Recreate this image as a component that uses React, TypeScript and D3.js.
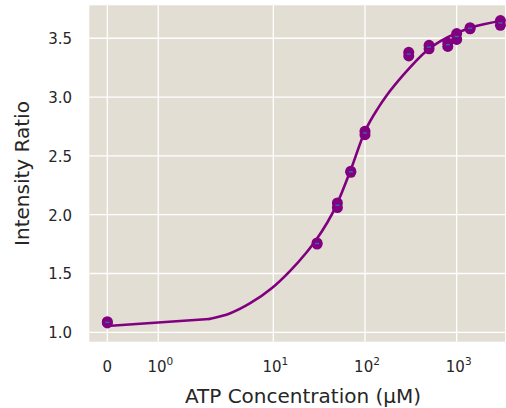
import React from "react";
import * as d3 from "d3";

// Measured ATP titration: concentration (µM) and intensity ratio, duplicates per concentration
const concentrations = [0, 0, 30, 30, 50, 50, 70, 70, 100, 100, 300, 300, 500, 500, 800, 800, 1000, 1000, 1400, 1400, 3000, 3000];
const ratios = [1.09, 1.08, 1.76, 1.75, 2.1, 2.06, 2.37, 2.36, 2.71, 2.68, 3.38, 3.35, 3.44, 3.41, 3.46, 3.43, 3.54, 3.49, 3.59, 3.58, 3.65, 3.61];

// Fitted binding curve, sampled
const fitConc = [0, 2, 3.4, 5.6, 9.6, 15, 23, 29, 49, 69, 100, 140, 173, 262, 471, 1000, 1400, 3200];
const fitRatio = [1.054, 1.113, 1.162, 1.247, 1.374, 1.516, 1.678, 1.78, 2.083, 2.369, 2.709, 2.91, 3.015, 3.188, 3.394, 3.544, 3.587, 3.65];

// Axis ticks
const xTicks = [0, 1, 10, 100, 1000];
const xTickExp = ["", "0", "1", "2", "3"];
const yTicks = [1.0, 1.5, 2.0, 2.5, 3.0, 3.5];

const W = 506;
const H = 408;
const plot = { left: 89.3, right: 505, top: 5.3, bottom: 341.7 };

// Symmetric log transform (linear near zero, log10 beyond the threshold)
const LINTHRESH = 2;
const LINSCALE_ADJ = 1 / (1 - 1 / 10);
function symlog(v: number): number {
  const a = Math.abs(v);
  if (a <= LINTHRESH) return v * LINSCALE_ADJ;
  return Math.sign(v) * LINTHRESH * (LINSCALE_ADJ + Math.log10(a / LINTHRESH));
}

const xLin = d3.scaleLinear().domain([symlog(-0.354), symlog(3365)]).range([plot.left, plot.right]);
const x = (v: number) => xLin(symlog(v));
const y = d3.scaleLinear().domain([0.92, 3.78]).range([plot.bottom, plot.top]);

const PURPLE = "#800080";
const BG = "#e3ded3";
const FONT = "'DejaVu Sans', sans-serif";
const TEXT = "#262626";

export default function App() {
  const fitPts: [number, number][] = fitConc.map((c, i) => [x(c), y(fitRatio[i])]);
  const linearPart = d3.line()(fitPts.slice(0, 2)) || "";
  const logPart = d3.line().curve(d3.curveMonotoneX)(fitPts.slice(1)) || "";

  const groups = d3.rollups(
    concentrations.map((c, i) => ({ c, r: ratios[i] })),
    (v) => d3.mean(v, (d) => d.r) as number,
    (d) => d.c
  );

  return (
    <svg
      width={W}
      height={H}
      style={{ position: "absolute", left: 0, top: 0, display: "block" }}
      fontFamily={FONT}
    >
      <rect x={0} y={0} width={W} height={H} fill="#ffffff" />
      <rect
        x={plot.left}
        y={plot.top}
        width={plot.right - plot.left}
        height={plot.bottom - plot.top}
        fill={BG}
      />
      {/* grid */}
      {xTicks.map((t) => (
        <line key={"gx" + t} x1={x(t)} x2={x(t)} y1={plot.top} y2={plot.bottom} stroke="#ffffff" strokeWidth={1.3} />
      ))}
      {yTicks.map((t) => (
        <line key={"gy" + t} x1={plot.left} x2={plot.right} y1={y(t)} y2={y(t)} stroke="#ffffff" strokeWidth={1.3} />
      ))}

      {/* fitted curve */}
      <path d={linearPart} fill="none" stroke={PURPLE} strokeWidth={2.6} strokeLinecap="round" />
      <path d={logPart} fill="none" stroke={PURPLE} strokeWidth={2.6} strokeLinecap="round" strokeLinejoin="round" />

      {/* measurements */}
      {concentrations.map((c, i) => (
        <circle key={"p" + i} cx={x(c)} cy={y(ratios[i])} r={5.5} fill={PURPLE} />
      ))}
      {groups.map(([c, m]) => (
        <line key={"m" + c} x1={x(c) - 2} x2={x(c) + 2} y1={y(m)} y2={y(m)} stroke="#1f77b4" strokeWidth={1.3} />
      ))}

      {/* x tick labels */}
      {xTicks.map((t, i) =>
        t === 0 ? (
          <text key={"tx" + t} x={x(t)} y={371.5} textAnchor="middle" fontSize={15} fill={TEXT}>
            0
          </text>
        ) : (
          <text key={"tx" + t} x={x(t) + 2} y={371.5} textAnchor="middle" fontSize={15} fill={TEXT}>
            10
            <tspan fontSize={10.5} dy={-6.5}>
              {xTickExp[i]}
            </tspan>
          </text>
        )
      )}

      {/* y tick labels */}
      {yTicks.map((t) => (
        <text key={"ty" + t} x={72} y={y(t) + 6} textAnchor="end" fontSize={15} fill={TEXT}>
          {t.toFixed(1)}
        </text>
      ))}

      {/* axis titles */}
      <text x={303} y={403} textAnchor="middle" fontSize={20} fill={TEXT}>
        ATP Concentration (μM)
      </text>
      <text
        transform={`translate(29,${(plot.top + plot.bottom) / 2}) rotate(-90)`}
        textAnchor="middle"
        fontSize={20}
        fill={TEXT}
      >
        Intensity Ratio
      </text>
    </svg>
  );
}
